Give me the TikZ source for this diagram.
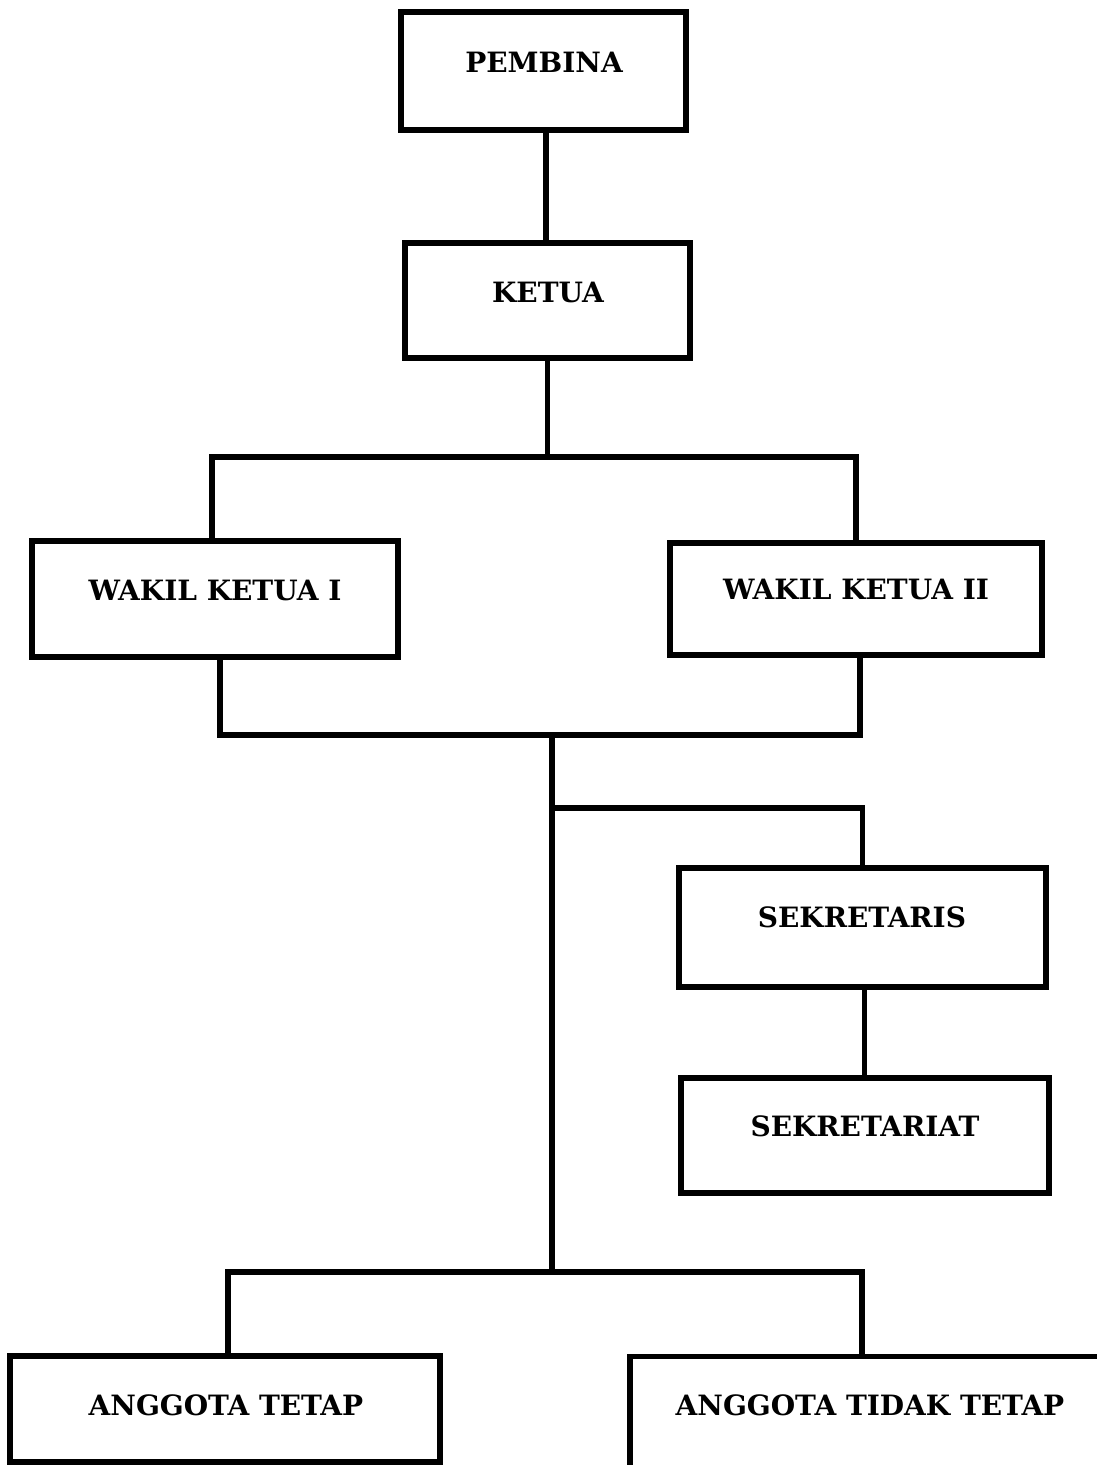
\documentclass[tikz,border=0pt]{standalone}
\usepackage{fontspec}
\setmainfont{DejaVu Serif}
\begin{document}
\begin{tikzpicture}[x=1pt,y=-1pt,line width=5.5pt,
  box/.style={draw,rectangle,inner sep=0pt,line width=5.5pt},
  lbl/.style={font=\bfseries\fontsize{28}{32}\selectfont,inner sep=0pt,anchor=base}]
\useasboundingbox (0,0) rectangle (1096,1465);
\fill[white] (0,0) rectangle (1096,1465);
% boxes
\node[box,minimum width=285pt,minimum height=118pt] (pembina) at (543.5,71) {};
\node[box,minimum width=285pt,minimum height=115pt] (ketua) at (547.5,300.5) {};
\node[box,minimum width=366pt,minimum height=116pt] (w1) at (215,599) {};
\node[box,minimum width=372pt,minimum height=112pt] (w2) at (856,599) {};
\node[box,minimum width=367pt,minimum height=119pt] (sek) at (862.5,927.5) {};
\node[box,minimum width=368pt,minimum height=115pt] (sekt) at (865,1135.5) {};
\node[box,minimum width=430pt,minimum height=106pt] (at) at (225,1409) {};
\node[box,minimum width=500pt,minimum height=143pt] (att) at (880,1428) {};
% labels
\node[lbl] (tpembina) at (544,72) {PEMBINA};
\node[lbl] (tketua) at (548,302) {KETUA};
\node[lbl] (tw1) at (215,600) {WAKIL KETUA I};
\node[lbl] (tw2) at (856,599) {WAKIL KETUA II};
\node[lbl] (tsek) at (862,927) {SEKRETARIS};
\node[lbl] (tsekt) at (865,1136) {SEKRETARIAT};
\node[lbl] (tat) at (226,1415) {ANGGOTA TETAP};
\node[lbl] (tatt) at (870,1415) {ANGGOTA TIDAK TETAP};
% connectors
\coordinate (bus1) at (548,457);
\coordinate (bus2) at (552,735);
\coordinate (br) at (552,808);
\coordinate (bus3) at (552,1272);
\draw ([xshift=2.5pt]pembina.south) -- ([xshift=-1.5pt]ketua.north);
\draw (ketua.south) -- (ketua.south |- bus1);
\draw ([xshift=-3pt]w1.north) |- (bus1) -| (w2.north);
\draw ([xshift=5pt]w1.south) |- (bus2) -| ([xshift=4pt]w2.south);
\draw (bus2) -- (bus3);
\draw (br) -| (sek.north);
\draw ([xshift=2pt]sek.south) -- ([xshift=2pt]sek.south |- sekt.north);
\draw ([xshift=3pt]at.north) |- (bus3) -| ([xshift=-18pt]att.north);
\end{tikzpicture}
\end{document}
